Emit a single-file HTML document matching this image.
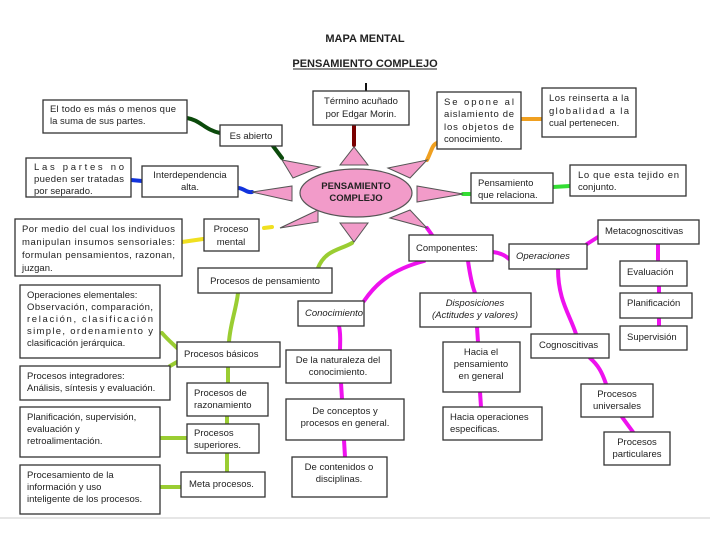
<!DOCTYPE html>
<html><head><meta charset="utf-8"><style>
html,body{margin:0;padding:0;background:#fff}
svg{display:block}
text{font-family:"Liberation Sans",sans-serif;font-size:9.5px;fill:#222}
.b{fill:#fff;stroke:#333;stroke-width:1.3}
.t{fill:#f29bc9;stroke:#555;stroke-width:1}
.c{fill:none;stroke-width:4;stroke-linecap:round}
.m{stroke:#ee11ee}.g{stroke:#9acd32}
</style></head><body>
<svg width="728" height="546" viewBox="0 0 728 546" xmlns="http://www.w3.org/2000/svg">
<rect width="728" height="546" fill="#fff"/>
<line x1="0" y1="518" x2="710" y2="518" stroke="#ddd" stroke-width="1.5"/>
<text x="365" y="42" text-anchor="middle" style="font-weight:bold;font-size:11px">MAPA MENTAL</text>
<text x="365" y="67" text-anchor="middle" style="font-weight:bold;font-size:11px">PENSAMIENTO COMPLEJO</text>
<line x1="293" y1="69" x2="437" y2="69" stroke="#222" stroke-width="1"/>
<line x1="366" y1="83" x2="366" y2="94" stroke="#111" stroke-width="2"/>

<path class="c" stroke="#7a0000" d="M354 126 V145"/>
<path class="c" stroke="#0b4a0b" d="M187 118 C200 120 205 130 220 133"/>
<path class="c" stroke="#0b4a0b" d="M273 146 L282 158"/>
<path class="c" stroke="#1133dd" d="M131 180 L142 181"/>
<path class="c" stroke="#1133dd" d="M238 188 C244 188 246 193 252 192"/>
<path class="c" stroke="#f0e020" d="M182 242 L203 239"/>
<path class="c" stroke="#f0e020" d="M264 228 L272 227"/>
<path class="c g" d="M352 243 C340 250 325 250 318 268"/>
<path class="c" stroke="#f0a020" d="M427 160 C432 150 432 145 437 143"/>
<path class="c" stroke="#f0a020" d="M521 119 L542 119"/>
<path class="c" stroke="#33dd33" d="M463 194 L471 194"/>
<path class="c" stroke="#33dd33" d="M553 187 L570 186"/>
<path class="c m" d="M427 228 L432 235"/>
<path class="c m" d="M493 252 C500 253 505 255 509 259"/>
<path class="c m" d="M424 261 C390 270 375 285 364 301"/>
<path class="c m" d="M468 261 C470 275 472 285 475 293"/>
<path class="c m" d="M477 327 L478 342"/>
<path class="c m" d="M480 392 L481 407"/>
<path class="c m" d="M339 326 C341 335 340 343 340 350"/>
<path class="c m" d="M341 383 L342 399"/>
<path class="c m" d="M344 440 L345 457"/>
<path class="c m" d="M587 244 L598 237"/>
<path class="c m" d="M558 269 C558 300 570 315 576 334"/>
<path class="c m" d="M658 244 V261"/>
<path class="c m" d="M659 286 V293"/>
<path class="c m" d="M659 318 V326"/>
<path class="c m" d="M590 358 C598 365 602 372 606 384"/>
<path class="c m" d="M622 417 L633 432"/>
<path class="c g" d="M238 293 C236 310 230 325 229 342"/>
<path class="c g" d="M162 333 C168 340 172 343 177 348"/>
<path class="c g" d="M170 366 L177 362"/>
<path class="c g" d="M228 367 V383"/>
<path class="c g" d="M227 416 V424"/>
<path class="c g" d="M160 438 H187"/>
<path class="c g" d="M227 453 V472"/>
<path class="c g" d="M160 487 H181"/>

<polygon class="t" points="340,165 368,165 354,147"/>
<polygon class="t" points="282,160 320,167 293,178"/>
<polygon class="t" points="252,192 292,186 292,201"/>
<polygon class="t" points="318,210 280,228 318,222"/>
<polygon class="t" points="340,223 368,223 354,242"/>
<polygon class="t" points="388,168 427,160 410,178"/>
<polygon class="t" points="417,186 417,202 463,194"/>
<polygon class="t" points="390,218 410,210 427,228"/>
<ellipse cx="356" cy="193" rx="56" ry="24" fill="#f29bc9" stroke="#555" stroke-width="1.2"/>
<text x="356" y="189" text-anchor="middle" style="font-weight:bold;font-size:9.5px">PENSAMIENTO</text>
<text x="356" y="201" text-anchor="middle" style="font-weight:bold;font-size:9.5px">COMPLEJO</text>

<rect class="b" x="313" y="91" width="96" height="34"/>
<text x="361" y="104" text-anchor="middle">Término acuñado</text>
<text x="361" y="117" text-anchor="middle">por Edgar Morin.</text>

<rect class="b" x="220" y="125" width="62" height="21"/>
<text x="251" y="139" text-anchor="middle">Es abierto</text>
<rect class="b" x="43" y="100" width="144" height="33"/>
<text x="50" y="112" textLength="126" lengthAdjust="spacing">El todo es más o menos que</text>
<text x="50" y="124">la suma de sus partes.</text>

<rect class="b" x="142" y="166" width="96" height="31"/>
<text x="190" y="178" text-anchor="middle">Interdependencia</text>
<text x="190" y="190" text-anchor="middle">alta.</text>
<rect class="b" x="26" y="158" width="105" height="39"/>
<text x="34" y="170" textLength="90" lengthAdjust="spacing">Las partes no</text>
<text x="34" y="182" textLength="90" lengthAdjust="spacing">pueden ser tratadas</text>
<text x="34" y="194">por separado.</text>

<rect class="b" x="204" y="219" width="55" height="32"/>
<text x="231" y="232" text-anchor="middle">Proceso</text>
<text x="231" y="245" text-anchor="middle">mental</text>
<rect class="b" x="15" y="219" width="167" height="57"/>
<text x="22" y="232" textLength="153" lengthAdjust="spacing">Por medio del cual los individuos</text>
<text x="22" y="245" textLength="153" lengthAdjust="spacing">manipulan insumos sensoriales:</text>
<text x="22" y="258" textLength="153" lengthAdjust="spacing">formulan pensamientos, razonan,</text>
<text x="22" y="271">juzgan.</text>

<rect class="b" x="198" y="268" width="134" height="25"/>
<text x="265" y="284" text-anchor="middle">Procesos de pensamiento</text>

<rect class="b" x="437" y="92" width="84" height="57"/>
<text x="444" y="105" textLength="70" lengthAdjust="spacing">Se opone al</text>
<text x="444" y="117" textLength="70" lengthAdjust="spacing">aislamiento de</text>
<text x="444" y="130" textLength="70" lengthAdjust="spacing">los objetos de</text>
<text x="444" y="142">conocimiento.</text>
<rect class="b" x="542" y="88" width="94" height="49"/>
<text x="549" y="101" textLength="80" lengthAdjust="spacing">Los reinserta a la</text>
<text x="549" y="114" textLength="80" lengthAdjust="spacing">globalidad a la</text>
<text x="549" y="126">cual pertenecen.</text>

<rect class="b" x="471" y="173" width="82" height="30"/>
<text x="478" y="186">Pensamiento</text>
<text x="478" y="198">que relaciona.</text>
<rect class="b" x="570" y="165" width="116" height="31"/>
<text x="578" y="178" textLength="101" lengthAdjust="spacing">Lo que esta tejido en</text>
<text x="578" y="190">conjunto.</text>

<rect class="b" x="409" y="235" width="84" height="26"/>
<text x="416" y="251">Componentes:</text>
<rect class="b" x="509" y="244" width="78" height="25"/>
<text x="516" y="259" font-style="italic">Operaciones</text>
<rect class="b" x="598" y="220" width="101" height="24"/>
<text x="605" y="234">Metacognoscitivas</text>
<rect class="b" x="620" y="261" width="67" height="25"/>
<text x="627" y="275">Evaluación</text>
<rect class="b" x="620" y="293" width="72" height="25"/>
<text x="627" y="306">Planificación</text>
<rect class="b" x="620" y="326" width="67" height="24"/>
<text x="627" y="340">Supervisión</text>
<rect class="b" x="531" y="334" width="78" height="24"/>
<text x="539" y="348">Cognoscitivas</text>
<rect class="b" x="581" y="384" width="72" height="33"/>
<text x="617" y="397" text-anchor="middle">Procesos</text>
<text x="617" y="409" text-anchor="middle">universales</text>
<rect class="b" x="604" y="432" width="66" height="33"/>
<text x="637" y="445" text-anchor="middle">Procesos</text>
<text x="637" y="457" text-anchor="middle">particulares</text>

<rect class="b" x="420" y="293" width="111" height="34"/>
<text x="475" y="306" text-anchor="middle" font-style="italic">Disposiciones</text>
<text x="475" y="318" text-anchor="middle" font-style="italic">(Actitudes y valores)</text>
<rect class="b" x="443" y="342" width="77" height="50"/>
<text x="481" y="355" text-anchor="middle">Hacia el</text>
<text x="481" y="367" text-anchor="middle">pensamiento</text>
<text x="481" y="379" text-anchor="middle">en general</text>
<rect class="b" x="443" y="407" width="99" height="33"/>
<text x="450" y="420">Hacia operaciones</text>
<text x="450" y="432">especificas.</text>

<rect class="b" x="298" y="301" width="66" height="25"/>
<text x="305" y="316" font-style="italic">Conocimiento</text>
<rect class="b" x="286" y="350" width="105" height="33"/>
<text x="338" y="363" text-anchor="middle">De la naturaleza del</text>
<text x="338" y="375" text-anchor="middle">conocimiento.</text>
<rect class="b" x="286" y="399" width="118" height="41"/>
<text x="345" y="414" text-anchor="middle">De conceptos y</text>
<text x="345" y="426" text-anchor="middle">procesos en general.</text>
<rect class="b" x="292" y="457" width="95" height="40"/>
<text x="339" y="470" text-anchor="middle">De contenidos o</text>
<text x="339" y="482" text-anchor="middle">disciplinas.</text>

<rect class="b" x="20" y="285" width="140" height="73"/>
<text x="27" y="298">Operaciones elementales:</text>
<text x="27" y="310" textLength="126" lengthAdjust="spacing">Observación, comparación,</text>
<text x="27" y="322" textLength="126" lengthAdjust="spacing">relación, clasificación</text>
<text x="27" y="334" textLength="126" lengthAdjust="spacing">simple, ordenamiento y</text>
<text x="27" y="346">clasificación jerárquica.</text>
<rect class="b" x="20" y="366" width="150" height="34"/>
<text x="27" y="379">Procesos integradores:</text>
<text x="27" y="391">Análisis, síntesis y evaluación.</text>
<rect class="b" x="20" y="407" width="140" height="50"/>
<text x="27" y="420">Planificación, supervisión,</text>
<text x="27" y="432">evaluación y</text>
<text x="27" y="444">retroalimentación.</text>
<rect class="b" x="20" y="465" width="140" height="49"/>
<text x="27" y="478">Procesamiento de la</text>
<text x="27" y="490">información y uso</text>
<text x="27" y="502">inteligente de los procesos.</text>

<rect class="b" x="177" y="342" width="103" height="25"/>
<text x="184" y="357">Procesos básicos</text>
<rect class="b" x="187" y="383" width="81" height="33"/>
<text x="194" y="396">Procesos de</text>
<text x="194" y="408">razonamiento</text>
<rect class="b" x="187" y="424" width="72" height="29"/>
<text x="194" y="436">Procesos</text>
<text x="194" y="448">superiores.</text>
<rect class="b" x="181" y="472" width="84" height="25"/>
<text x="189" y="487">Meta procesos.</text>
</svg>
</body></html>
